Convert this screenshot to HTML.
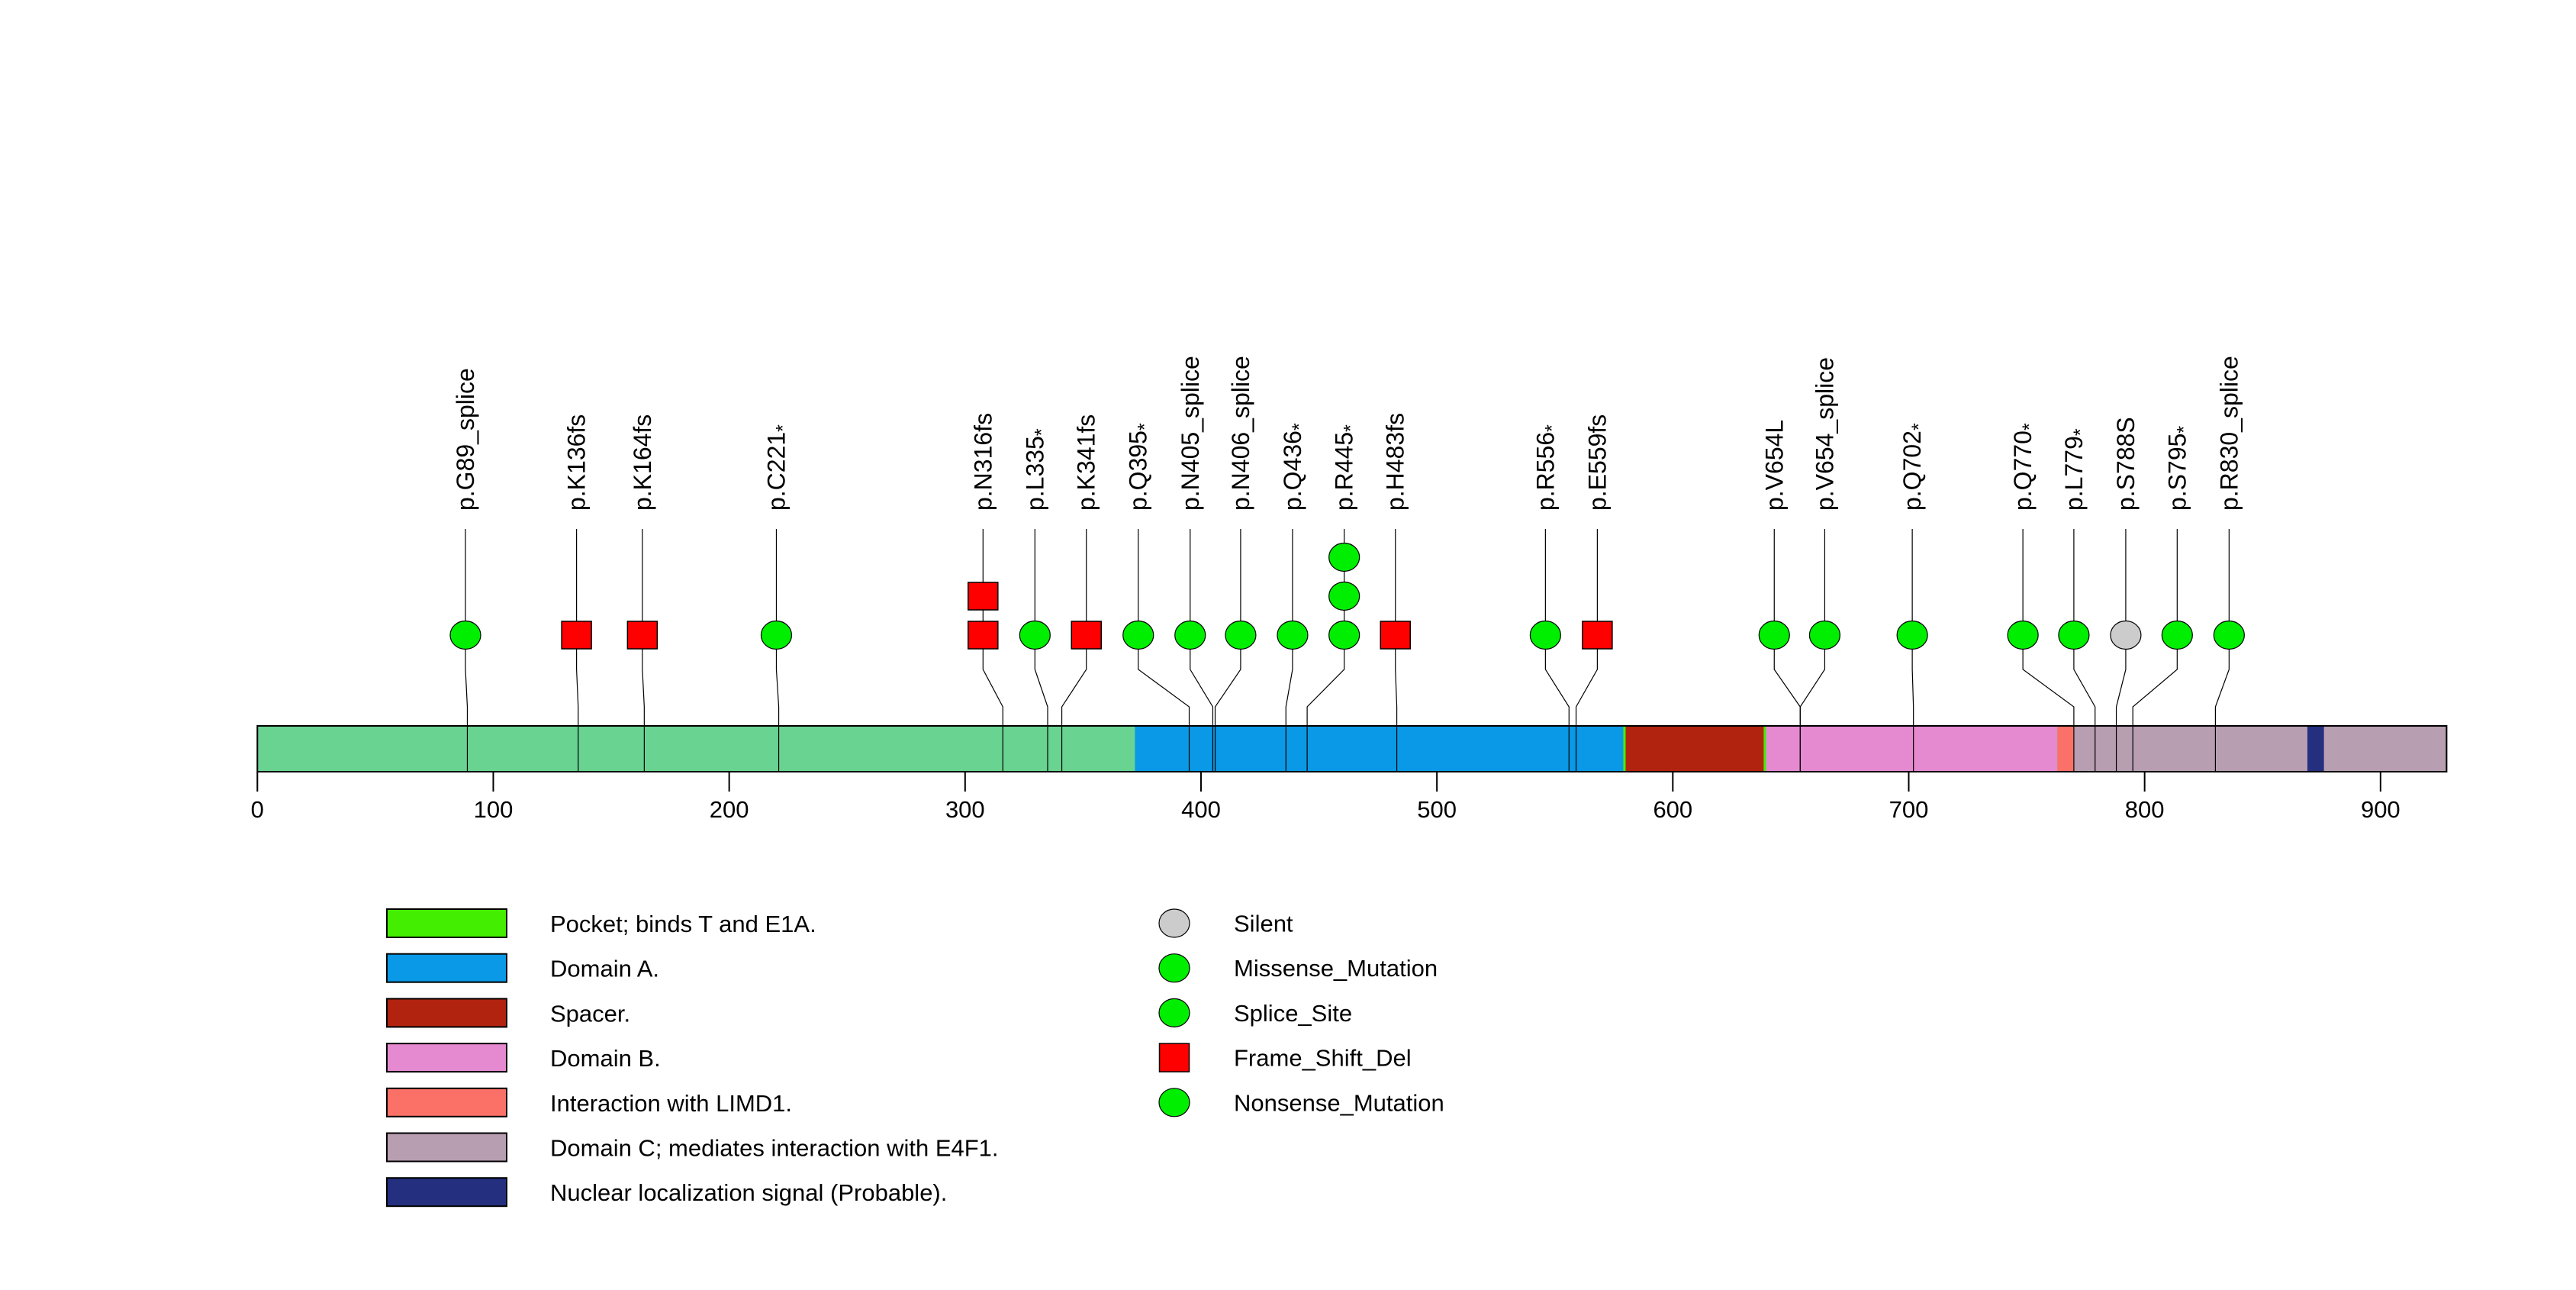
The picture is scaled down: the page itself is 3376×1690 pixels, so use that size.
<!DOCTYPE html>
<html><head><meta charset="utf-8"><style>
html,body{margin:0;padding:0;background:#fff;}
svg{display:block;font-family:"Liberation Sans",Arial,sans-serif;}
</style></head><body>
<svg id="chart" width="3376" height="1690" viewBox="0 0 3376 1690" xmlns="http://www.w3.org/2000/svg">
<g id="stems"></g>
<g id="protein"></g>
<g id="barlines"></g>
<g id="axis"></g>
<g id="markers"></g>
<g id="labels"></g>
<g id="legend"></g>
</svg>
<script>
const proteinLength = 928;
const domainNames = ["Pocket; binds T and E1A.","Domain A.","Spacer.","Domain B.","Interaction with LIMD1.","Domain C; mediates interaction with E4F1.","Nuclear localization signal (Probable)."];
const domainStarts = [373,372,580,639.5,763,770,869];
const domainEnds = [771,579,638.5,763,770,928,876];
const domainColors = ["#44ee00","#0a99e6","#b1230f","#e58ad0","#fb7168","#b89eb1","#24307f"];
const mutLabels = ["p.G89_splice","p.K136fs","p.K164fs","p.C221*","p.N316fs","p.L335*","p.K341fs","p.Q395*","p.N405_splice","p.N406_splice","p.Q436*","p.R445*","p.H483fs","p.R556*","p.E559fs","p.V654L","p.V654_splice","p.Q702*","p.Q770*","p.L779*","p.S788S","p.S795*","p.R830_splice"];
const mutPositions = [89,136,164,221,316,335,341,395,405,406,436,445,483,556,559,654,654,702,770,779,788,795,830];
const mutDisplayPos = [88.2,135.3,163.2,220,307.6,329.6,351.4,373.4,395.4,416.8,438.8,460.7,482.4,546,568,643,664.4,701.5,748.4,770,792,813.8,835.8];
const mutCounts = [1,1,1,1,2,1,1,1,1,1,1,3,1,1,1,1,1,1,1,1,1,1,1];
const mutTypes = ["Splice_Site","Frame_Shift_Del","Frame_Shift_Del","Nonsense_Mutation","Frame_Shift_Del","Nonsense_Mutation","Frame_Shift_Del","Nonsense_Mutation","Splice_Site","Splice_Site","Nonsense_Mutation","Nonsense_Mutation","Frame_Shift_Del","Nonsense_Mutation","Frame_Shift_Del","Missense_Mutation","Splice_Site","Nonsense_Mutation","Nonsense_Mutation","Nonsense_Mutation","Silent","Nonsense_Mutation","Splice_Site"];
const axisTicks = [0,100,200,300,400,500,600,700,800,900];
const typeNames = ["Silent","Missense_Mutation","Splice_Site","Frame_Shift_Del","Nonsense_Mutation"];
const typeColors = ["#cccccc","#00ee00","#00ee00","#ff0000","#00ee00"];

const NS="http://www.w3.org/2000/svg";
const X0=337.3, XS=3.0917;
function xs(v){return X0+v*XS;}
const BAR_T=951, BAR_B=1011;
function mk(tag,attrs,parent){const e=document.createElementNS(NS,tag);for(const k in attrs)e.setAttribute(k,attrs[k]);parent.appendChild(e);return e;}
function typeColor(t){return typeColors[typeNames.indexOf(t)];}
function isSquare(t){return t==="Frame_Shift_Del";}

const gP=document.getElementById('protein');
let base=mk('rect',{x:xs(0),y:BAR_T,width:xs(proteinLength)-xs(0),height:BAR_B-BAR_T,fill:'#69d391',stroke:'none'},gP);


for(let i=0;i<domainNames.length;i++){
  const r=mk('rect',{x:xs(domainStarts[i]),y:BAR_T,width:xs(domainEnds[i])-xs(domainStarts[i]),height:BAR_B-BAR_T,fill:domainColors[i]},gP);
  
  
}
const border=mk('rect',{x:xs(0),y:BAR_T,width:xs(proteinLength)-xs(0),height:BAR_B-BAR_T,fill:'none',stroke:'#000','stroke-width':2},gP);



const gA=document.getElementById('axis');
axisTicks.forEach(t=>{
  const l=mk('line',{x1:xs(t),x2:xs(t),y1:BAR_B,y2:1037,stroke:'#000','stroke-width':2},gA);
  
  
  const tx=mk('text',{x:xs(t),y:1071,'font-size':31,'text-anchor':'middle',fill:'#000'},gA);
  tx.textContent=String(t);
  
  
});

const gS=document.getElementById('stems'), gL=document.getElementById('barlines'), gM=document.getElementById('markers'), gT=document.getElementById('labels');
for(let i=0;i<mutLabels.length;i++){
  const dx=xs(mutDisplayPos[i]), ax=xs(mutPositions[i]);
  const s=mk('polyline',{points:`${dx},693 ${dx},877 ${ax},926 ${ax},${BAR_T}`,fill:'none',stroke:'#000','stroke-width':1.2},gS);
  
  
  const bl=mk('line',{x1:ax,x2:ax,y1:BAR_T,y2:BAR_B,stroke:'#000','stroke-width':1.2},gL);
  
  
  for(let k=0;k<mutCounts[i];k++){
    const cy=832-51*k, col=typeColor(mutTypes[i]);
    let m;
    if(isSquare(mutTypes[i])) m=mk('rect',{x:dx-19.5,y:cy-18,width:39,height:36,fill:col,stroke:'#000','stroke-width':1.5},gM);
    else m=mk('ellipse',{cx:dx,cy:cy,rx:20,ry:18.5,fill:col,stroke:'#000','stroke-width':1.2},gM);
    
    
  }
  const t=mk('text',{x:0,y:0,'font-size':32,fill:'#000','text-anchor':'start',transform:`translate(${dx+11},669) rotate(-90)`},gT);
  const lab=mutLabels[i];
  if(lab.endsWith('*')){
    t.appendChild(document.createTextNode(lab.slice(0,-1)));
    const ts=mk('tspan',{'baseline-shift':'-0.25em','font-size':25},t);
    ts.textContent='*';
  } else t.textContent=lab;
  
  
}

const gG=document.getElementById('legend');
for(let i=0;i<domainNames.length;i++){
  const y=1191+i*58.7;
  const r=mk('rect',{x:507,y:y,width:157,height:37,fill:domainColors[i],stroke:'#000','stroke-width':2},gG);
  
  
  const t=mk('text',{x:721,y:y+30,'font-size':31,fill:'#000'},gG);
  t.textContent=domainNames[i];
  
  
}
for(let i=0;i<typeNames.length;i++){
  const cy=1209.5+i*58.7;
  let m;
  if(isSquare(typeNames[i])) m=mk('rect',{x:1519.5,y:cy-18.5,width:39,height:37,fill:typeColors[i],stroke:'#000','stroke-width':1.5},gG);
  else m=mk('ellipse',{cx:1539,cy:cy,rx:20,ry:18.5,fill:typeColors[i],stroke:'#000','stroke-width':1.2},gG);
  
  
  const t=mk('text',{x:1617,y:cy+11,'font-size':31,fill:'#000'},gG);
  t.textContent=typeNames[i];
  
  
}
</script>
</body></html>
